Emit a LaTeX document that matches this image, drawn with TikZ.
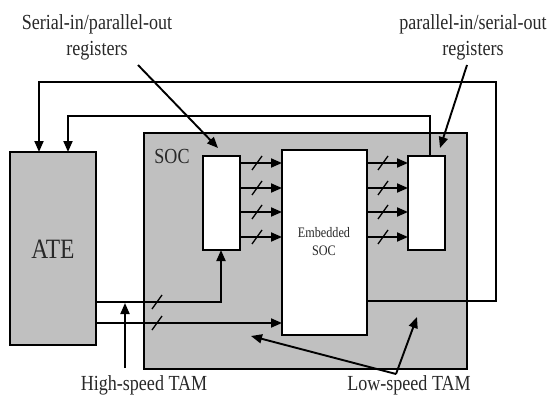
\documentclass[tikz,border=0pt]{standalone}
\usepackage{fontspec}
\setmainfont{Liberation Serif}[FakeStretch=0.84]
\usetikzlibrary{arrows.meta}
\definecolor{socgray}{RGB}{192,192,192}
\definecolor{txt}{RGB}{40,40,40}
\tikzset{
  box/.style={draw=black, line width=1.9pt, rectangle, anchor=north west, inner sep=0pt, outer sep=0pt},
  arr/.style={line width=1.9pt, -{Triangle[length=11pt,width=9pt]}},
  slash/.style={line width=1.3pt},
  lbl/.style={text=txt, inner sep=0pt, align=center},
}
\begin{document}
\begin{tikzpicture}[x=1pt,y=-1pt]
\useasboundingbox (0,0) rectangle (549,396);
% boxes
\node[box, fill=socgray, minimum width=323pt, minimum height=236pt] (soc) at (144,133) {};
\node[box, fill=socgray, minimum width=86pt, minimum height=193pt] (ate) at (10,152) {};
\node[box, fill=white, minimum width=37pt, minimum height=94pt] (lreg) at (203,156) {};
\node[box, fill=white, minimum width=85pt, minimum height=185pt] (emb) at (282,150) {};
\node[box, fill=white, minimum width=37pt, minimum height=94pt] (rreg) at (408,156) {};
% labels
\node[lbl, font=\fontsize{28}{30}\selectfont] (atel) at (53,249) {ATE};
\node[lbl, font=\fontsize{21.5}{26}\selectfont] (socl) at (172,156) {SOC};
\node[lbl, font=\fontsize{14.5}{18}\selectfont] (embl) at (324,242) {Embedded\\SOC};
\node[lbl, font=\fontsize{21.5}{26}\selectfont] (sipo) at (97,37) {Serial-in/parallel-out\\registers};
\node[lbl, font=\fontsize{21.5}{26}\selectfont] (piso) at (473,37) {parallel-in/serial-out\\registers};
\node[lbl, font=\fontsize{21.5}{26}\selectfont] (hstam) at (144,385) {High-speed TAM};
\node[lbl, font=\fontsize{21.5}{26}\selectfont] (lstam) at (409,385) {Low-speed TAM};
% register arrows
\foreach \y in {163,188,212,237}{
  \draw[arr] (lreg.east |- 0,\y) -- (emb.west |- 0,\y);
  \draw[slash] (252,\y+7) -- (262,\y-7);
  \draw[arr] (emb.east |- 0,\y) -- (rreg.west |- 0,\y);
  \draw[slash] (378,\y+7) -- (388,\y-7);
}
% ATE outputs
\coordinate (hs1) at (221,302);
\draw[arr] (ate.east |- hs1) -- (hs1) -- (lreg.south -| hs1);
\draw[slash] (152,309) -- (162,295);
\draw[arr] (ate.east |- 0,323) -- (emb.west |- 0,323);
\draw[slash] (152,330) -- (162,316);
% outer loop
\coordinate (o1) at (496,301);
\coordinate (o2) at (496,82);
\coordinate (o3) at (39,82);
\draw[arr] (emb.east |- o1) -- (o1) -- (o2) -- (o3) -- (ate.north -| o3);
% inner loop
\coordinate (i1) at (430,116);
\coordinate (i2) at (68,116);
\draw[arr] (rreg.north -| i1) -- (i1) -- (i2) -- (ate.north -| i2);
% annotation arrows
\coordinate (a1s) at (138,65);
\coordinate (a1e) at (218,148);
\draw[arr] (a1s) -- (a1e);
\coordinate (a2s) at (467,65);
\coordinate (a2e) at (440,148);
\draw[arr] (a2s) -- (a2e);
\coordinate (hsbase) at (125,368);
\draw[arr] (hsbase) -- (125,303);
\coordinate (lsbase) at (396,374);
\draw[arr] (lsbase) -- (251,336);
\draw[arr] (lsbase) -- (417,317);
\end{tikzpicture}
\end{document}
